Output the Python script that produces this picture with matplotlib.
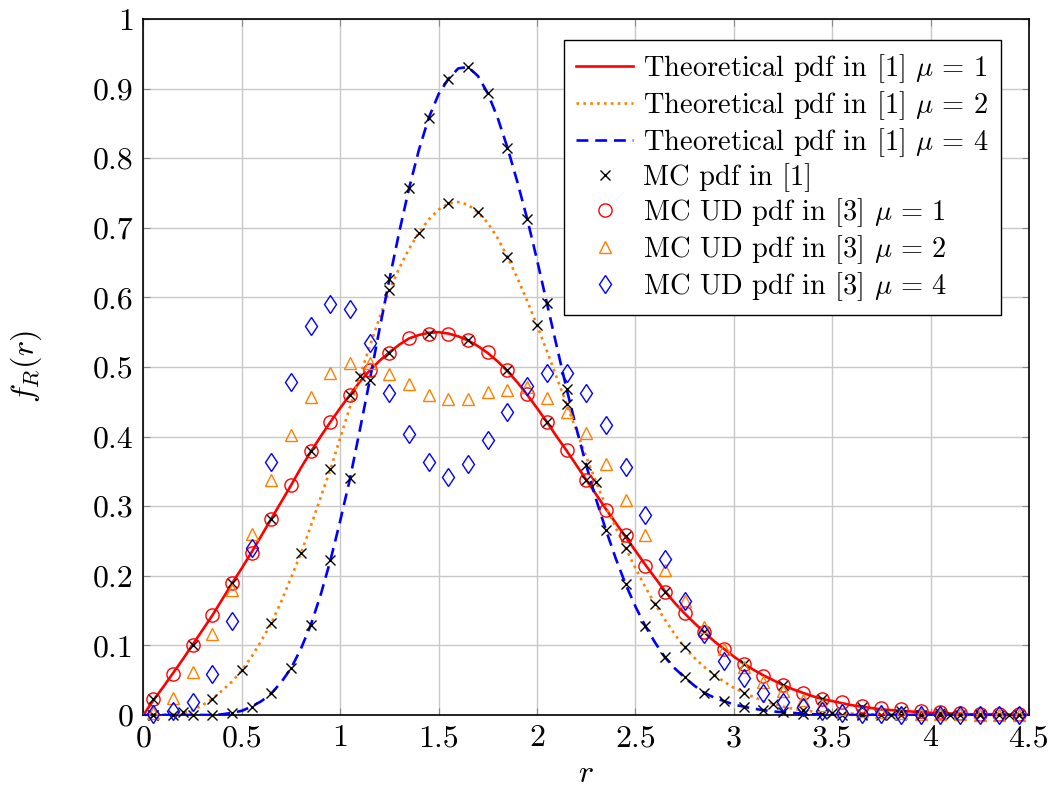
import matplotlib
matplotlib.use("Agg")
import matplotlib.pyplot as plt
import numpy as np

plt.rcParams['font.family'] = 'serif'
plt.rcParams['font.serif'] = ['cmr10']
plt.rcParams['mathtext.fontset'] = 'cm'
plt.rcParams['axes.formatter.use_mathtext'] = True

# theoretical pdf curves, read every 0.05 from r = 0 to 4.5
r_th = np.round(np.arange(0, 4.501, 0.05), 2)
th_mu1 = [0.000, 0.021, 0.040, 0.060, 0.080, 0.101, 0.122, 0.143, 0.166, 0.189,
          0.211, 0.234, 0.258, 0.282, 0.306, 0.330, 0.355, 0.378, 0.400, 0.421,
          0.441, 0.460, 0.479, 0.495, 0.509, 0.521, 0.532, 0.541, 0.546, 0.549,
          0.550, 0.548, 0.544, 0.538, 0.530, 0.520, 0.508, 0.494, 0.478, 0.460,
          0.441, 0.421, 0.400, 0.380, 0.359, 0.338, 0.317, 0.296, 0.276, 0.256,
          0.236, 0.216, 0.197, 0.178, 0.161, 0.146, 0.132, 0.119, 0.106, 0.095,
          0.084, 0.074, 0.065, 0.057, 0.050, 0.043, 0.037, 0.032, 0.027, 0.023,
          0.020, 0.017, 0.014, 0.012, 0.010, 0.008, 0.007, 0.006, 0.005, 0.004,
          0.003, 0.003, 0.002, 0.002, 0.001, 0.001, 0.001, 0.001, 0.000, 0.000,
          0.000]
th_mu2 = [0.000, 0.000, 0.000, 0.001, 0.003, 0.007, 0.014, 0.023, 0.035, 0.048,
          0.064, 0.084, 0.107, 0.132, 0.163, 0.197, 0.232, 0.271, 0.312, 0.353,
          0.398, 0.443, 0.487, 0.530, 0.571, 0.610, 0.642, 0.670, 0.693, 0.712,
          0.726, 0.735, 0.737, 0.733, 0.722, 0.707, 0.685, 0.658, 0.628, 0.595,
          0.560, 0.523, 0.485, 0.447, 0.409, 0.371, 0.335, 0.300, 0.269, 0.240,
          0.211, 0.184, 0.159, 0.137, 0.116, 0.097, 0.082, 0.069, 0.058, 0.048,
          0.039, 0.032, 0.026, 0.020, 0.016, 0.012, 0.009, 0.007, 0.005, 0.004,
          0.003, 0.002, 0.002, 0.001, 0.001, 0.000, 0.000, 0.000, 0.000, 0.000,
          0.000, 0.000, 0.000, 0.000, 0.000, 0.000, 0.000, 0.000, 0.000, 0.000,
          0.000]
th_mu4 = [0.000, 0.000, 0.000, 0.000, 0.000, 0.000, 0.000, 0.000, 0.001, 0.003,
          0.006, 0.012, 0.020, 0.031, 0.047, 0.067, 0.095, 0.129, 0.172, 0.222,
          0.279, 0.340, 0.410, 0.481, 0.555, 0.626, 0.694, 0.757, 0.812, 0.858,
          0.892, 0.914, 0.929, 0.931, 0.918, 0.893, 0.858, 0.815, 0.766, 0.713,
          0.654, 0.592, 0.530, 0.469, 0.412, 0.359, 0.310, 0.266, 0.225, 0.188,
          0.156, 0.128, 0.104, 0.083, 0.067, 0.054, 0.042, 0.032, 0.025, 0.020,
          0.015, 0.012, 0.009, 0.007, 0.005, 0.004, 0.003, 0.002, 0.001, 0.001,
          0.000, 0.000, 0.000, 0.000, 0.000, 0.000, 0.000, 0.000, 0.000, 0.000,
          0.000, 0.000, 0.000, 0.000, 0.000, 0.000, 0.000, 0.000, 0.000, 0.000,
          0.000]

# MC pdf in [1], sampled on three different grids
r_mc1 = np.round(np.arange(0.05, 4.46, 0.2), 2)
mc_mu1 = [0.023, 0.101, 0.190, 0.282, 0.379, 0.460, 0.520, 0.548, 0.539, 0.495,
          0.421, 0.338, 0.257, 0.177, 0.119, 0.073, 0.043, 0.023, 0.012, 0.006,
          0.003, 0.001, 0.0005]
r_mc2 = np.round(np.arange(0.05, 4.41, 0.15), 2)
mc_mu2 = [0.000, 0.004, 0.023, 0.064, 0.132, 0.232, 0.353, 0.487, 0.610, 0.692,
          0.736, 0.722, 0.658, 0.560, 0.447, 0.334, 0.240, 0.159, 0.097, 0.058,
          0.032, 0.016, 0.007, 0.003, 0.001, 0.000, 0.000, 0.000, 0.000, 0.000]
r_mc4 = np.round(np.arange(0.05, 4.46, 0.1), 2)
mc_mu4 = [0.000, 0.000, 0.000, 0.000, 0.003, 0.012, 0.031, 0.067, 0.129, 0.222,
          0.340, 0.481, 0.626, 0.757, 0.858, 0.914, 0.931, 0.893, 0.815, 0.713,
          0.592, 0.469, 0.359, 0.266, 0.188, 0.128, 0.083, 0.054, 0.032, 0.020,
          0.012, 0.007, 0.004, 0.002, 0.001, 0.000, 0.000, 0.000, 0.000, 0.000,
          0.000, 0.000, 0.000, 0.000, 0.000]

# MC UD pdf in [3]
r_ud = np.round(np.arange(0.05, 4.46, 0.1), 2)
ud_mu1 = [0.023, 0.059, 0.101, 0.143, 0.190, 0.233, 0.282, 0.331, 0.379, 0.421,
          0.460, 0.496, 0.520, 0.541, 0.548, 0.548, 0.539, 0.521, 0.495, 0.461,
          0.421, 0.381, 0.338, 0.295, 0.258, 0.214, 0.177, 0.146, 0.119, 0.095,
          0.073, 0.056, 0.043, 0.032, 0.023, 0.018, 0.013, 0.010, 0.008, 0.006,
          0.004, 0.003, 0.002, 0.002, 0.002]
ud_mu2 = [0.003, 0.024, 0.062, 0.117, 0.180, 0.260, 0.337, 0.402, 0.457, 0.492,
          0.505, 0.505, 0.490, 0.475, 0.459, 0.454, 0.454, 0.464, 0.467, 0.471,
          0.456, 0.435, 0.405, 0.360, 0.309, 0.258, 0.208, 0.164, 0.126, 0.095,
          0.069, 0.048, 0.034, 0.022, 0.014, 0.009, 0.006, 0.004, 0.003, 0.002,
          0.001, 0.001, 0.000, 0.000, 0.000]
ud_mu4 = [0.001, 0.005, 0.019, 0.059, 0.135, 0.240, 0.364, 0.479, 0.559, 0.591,
          0.583, 0.534, 0.463, 0.403, 0.363, 0.342, 0.360, 0.395, 0.435, 0.473,
          0.492, 0.492, 0.462, 0.417, 0.356, 0.287, 0.224, 0.164, 0.116, 0.078,
          0.053, 0.032, 0.019, 0.011, 0.006, 0.003, 0.002, 0.001, 0.000, 0.000,
          0.000, 0.000, 0.000, 0.000, 0.000]

xticks = [0, 0.5, 1, 1.5, 2, 2.5, 3, 3.5, 4, 4.5]
xticklabels = ['0', '0.5', '1', '1.5', '2', '2.5', '3', '3.5', '4', '4.5']
yticks = [0, 0.1, 0.2, 0.3, 0.4, 0.5, 0.6, 0.7, 0.8, 0.9, 1]
yticklabels = ['0', '0.1', '0.2', '0.3', '0.4', '0.5', '0.6', '0.7', '0.8', '0.9', '1']

red = '#ff0000'
orange = '#ff8000'
blue = '#0000ff'

fig = plt.figure(figsize=(10.51, 7.93), dpi=100)
ax = fig.add_axes([0.1365, 0.0984, 0.8425, 0.8777])

ax.plot(r_th, th_mu1, color=red, lw=1.9, label=r'Theoretical pdf in [1] $\mu\,=\,1$', zorder=3)
ax.plot(r_th, th_mu2, color=orange, lw=1.9, ls=(0, (1, 1.6)), label=r'Theoretical pdf in [1] $\mu\,=\,2$', zorder=3)
ax.plot(r_th, th_mu4, color=blue, lw=1.9, ls=(0, (4.5, 2.6)), label=r'Theoretical pdf in [1] $\mu\,=\,4$', zorder=3)

mk = dict(ls='none', clip_on=False, zorder=4)
ax.plot(r_mc1, mc_mu1, marker='x', color='black', ms=7, mew=1.0, label='MC pdf in [1]', **mk)
ax.plot(r_mc2, mc_mu2, marker='x', color='black', ms=7, mew=1.0, **mk)
ax.plot(r_mc4, mc_mu4, marker='x', color='black', ms=7, mew=1.0, **mk)
ax.plot(r_ud, ud_mu1, marker='o', mfc='none', mec=red, ms=9.5, mew=1.0,
        label=r'MC UD pdf in [3] $\mu\,=\,1$', **mk)
ax.plot(r_ud, ud_mu2, marker='^', mfc='none', mec=orange, ms=8.5, mew=1.0,
        label=r'MC UD pdf in [3] $\mu\,=\,2$', **mk)
ax.plot(r_ud, ud_mu4, marker='d', mfc='none', mec=blue, ms=9.5, mew=1.0,
        label=r'MC UD pdf in [3] $\mu\,=\,4$', **mk)

ax.set_xlim(0, 4.5)
ax.set_ylim(0, 1)
ax.set_xticks(xticks)
ax.set_xticklabels(xticklabels)
ax.set_yticks(yticks)
ax.set_yticklabels(yticklabels)
ax.tick_params(direction='in', length=5, width=0.8, color='#888888', labelsize=23,
               top=True, right=True, pad=7)
ax.grid(True, color='#c8c8c8', lw=1.0)
ax.set_axisbelow(True)
for s in ax.spines.values():
    s.set_linewidth(1.2)

ax.set_xlabel(r'$r$', fontsize=23, labelpad=6)
ax.set_ylabel(r'$f_R(r)$', fontsize=23, labelpad=35)

leg = ax.legend(loc='upper right', bbox_to_anchor=(0.968, 0.970), fontsize=20.5,
                frameon=True, fancybox=False, framealpha=1, edgecolor='black',
                handlelength=2.0, handletextpad=0.35, borderpad=0.42,
                labelspacing=0.15, numpoints=1, borderaxespad=0)
leg.get_frame().set_linewidth(1.0)

plt.savefig('out.png', dpi=100)
